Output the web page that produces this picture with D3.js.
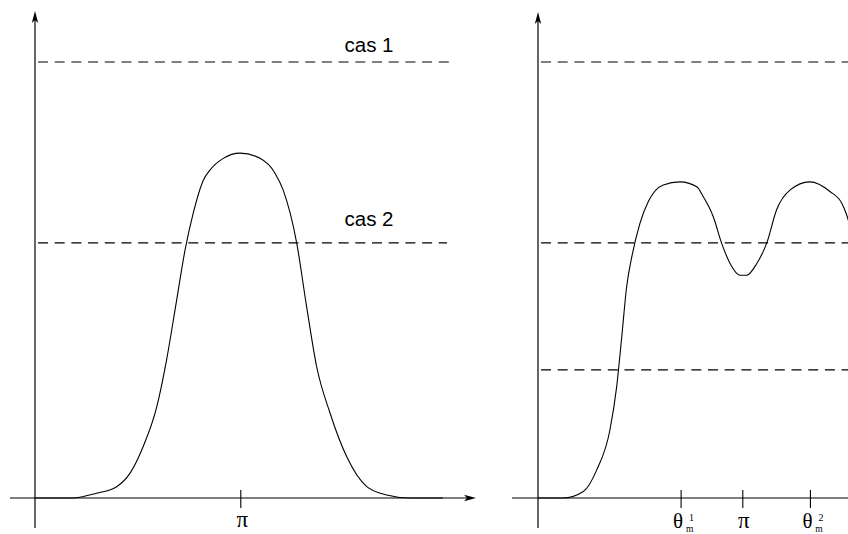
<!DOCTYPE html>
<html>
<head>
<meta charset="utf-8">
<script src="https://cdn.jsdelivr.net/npm/d3@7"></script>
<style>
  html, body { margin: 0; padding: 0; background: #fff; }
  svg { display: block; }
</style>
</head>
<body>
<svg id="chart" width="848" height="534"></svg>
<script>
// ---- data (theta in units of pi, value relative to the "cas 1" level) ----
const leftTheta  = [0, 0.185, 0.300, 0.398, 0.463, 0.526, 0.593, 0.641, 0.690, 0.731, 0.771, 0.820, 0.852, 0.917, 0.999, 1.096, 1.169, 1.209, 1.275, 1.323, 1.372, 1.437, 1.518, 1.616, 1.713, 1.827, 1.987];
const leftValue  = [0, 0.000, 0.011, 0.026, 0.057, 0.117, 0.209, 0.317, 0.454, 0.569, 0.654, 0.729, 0.752, 0.779, 0.791, 0.779, 0.745, 0.706, 0.584, 0.439, 0.301, 0.195, 0.095, 0.026, 0.007, 0.000, 0.000];

const rightTheta = [0, 0.122, 0.222, 0.287, 0.352, 0.385, 0.410, 0.434, 0.459, 0.499, 0.540, 0.613, 0.695, 0.777, 0.809, 0.858, 0.899, 0.940, 0.989, 1.022, 1.071, 1.119, 1.168, 1.233, 1.331, 1.429, 1.487, 1.511, 1.540];
const rightValue = [0, 0.000, 0.015, 0.064, 0.156, 0.255, 0.370, 0.485, 0.553, 0.630, 0.680, 0.718, 0.725, 0.714, 0.691, 0.645, 0.584, 0.538, 0.511, 0.511, 0.538, 0.584, 0.661, 0.706, 0.725, 0.703, 0.676, 0.649, 0.600];

const leftLevels  = [1, 0.585];
const rightLevels = [1, 0.585, 0.294];
const caseLabels  = ["cas 1", "cas 2"];

const leftTicks       = [1];
const leftTickLabels  = ["π"];
const rightTicks      = [0.698, 1, 1.331];
const rightTickMain   = ["θ", "π", "θ"];
const rightTickSup    = ["1", "", "2"];
const rightTickSub    = ["m", "", "m"];

// ---- layout ----
const svg = d3.select("#chart");
const baseY = 498;
const y = d3.scaleLinear().domain([0, 1]).range([baseY, 62]);
const xL = d3.scaleLinear().domain([0, 1]).range([35, 240.3]);
const xR = d3.scaleLinear().domain([0, 1]).range([538, 742.3]);

const ink = "#000";
const serif = "'Liberation Serif', 'DejaVu Serif', serif";
const sans = "'Liberation Sans', Arial, sans-serif";

function arrowUp(g, x, yTip) {
  g.append("path")
    .attr("d", `M${x},${yTip} L${x - 3.2},${yTip + 12} L${x},${yTip + 9} L${x + 3.2},${yTip + 12} Z`)
    .attr("fill", ink);
}
function arrowRight(g, xTip, yy) {
  g.append("path")
    .attr("d", `M${xTip},${yy} L${xTip - 12},${yy - 3.2} L${xTip - 9},${yy} L${xTip - 12},${yy + 3.2} Z`)
    .attr("fill", ink);
}

const line = (xs) => d3.line()
  .x(d => xs(d[0]))
  .y(d => y(d[1]))
  .curve(d3.curveMonotoneX);

function panel(xs, thetas, values, levels, ticks, opts) {
  const g = svg.append("g");
  levels.forEach((lv, i) => {
    g.append("line")
      .attr("x1", xs(0) + 3).attr("x2", opts.dashEnd[i])
      .attr("y1", y(lv)).attr("y2", y(lv))
      .attr("stroke", ink).attr("stroke-width", 1.2)
      .attr("stroke-dasharray", "10,6.7");
  });
  g.append("line")
    .attr("x1", xs(0)).attr("x2", xs(0))
    .attr("y1", 528).attr("y2", opts.yTop + 4)
    .attr("stroke", ink).attr("stroke-width", 1.2);
  arrowUp(g, xs(0), opts.yTop);
  g.append("line")
    .attr("x1", opts.xStart).attr("x2", opts.xEnd - 4)
    .attr("y1", baseY).attr("y2", baseY)
    .attr("stroke", ink).attr("stroke-width", 1.2);
  if (opts.arrow) arrowRight(g, opts.xEnd, baseY);
  const ax = g.append("g")
    .attr("transform", `translate(0,${baseY})`)
    .call(d3.axisBottom(xs).tickValues(ticks).tickSizeOuter(0).tickFormat(() => ""));
  ax.select(".domain").remove();
  ax.selectAll(".tick line").attr("y1", -8).attr("y2", 10)
    .attr("stroke", ink).attr("stroke-width", 1.1);
  ax.selectAll(".tick text").remove();
  ax.selectAll(".tick").each(function (d, i) { opts.label(d3.select(this), i); });
  const pts = thetas.map((t, i) => [t, values[i]]);
  g.append("path")
    .attr("d", line(xs)(pts))
    .attr("fill", "none").attr("stroke", ink).attr("stroke-width", 1.1);
  return g;
}

panel(xL, leftTheta, leftValue, leftLevels, leftTicks, {
  dashEnd: [453, 447], yTop: 11, xStart: 10, xEnd: 476, arrow: true,
  label: (t, i) => {
    t.append("text").attr("x", 1.5).attr("y", 29)
      .attr("text-anchor", "middle")
      .style("font-family", serif).style("font-size", "23px")
      .attr("fill", ink).text(leftTickLabels[i]);
  }
});

panel(xR, rightTheta, rightValue, rightLevels, rightTicks, {
  dashEnd: [848, 848, 848], yTop: 12, xStart: 512, xEnd: 860, arrow: false,
  label: (t, i) => {
    if (rightTickSup[i] === "") {
      t.append("text").attr("x", 1).attr("y", 30)
        .attr("text-anchor", "middle")
        .style("font-family", serif).style("font-size", "23px")
        .attr("fill", ink).text(rightTickMain[i]);
    } else {
      t.append("text").attr("x", -3).attr("y", 30)
        .style("font-family", serif).style("font-size", "21px")
        .attr("fill", ink).text(rightTickMain[i]);
      t.append("text").attr("x", 10.5).attr("y", 23)
        .style("font-family", serif).style("font-size", "10px")
        .attr("fill", ink).text(rightTickSup[i]);
      t.append("text").attr("x", 8.5).attr("y", 33.5)
        .style("font-family", serif).style("font-size", "9.5px")
        .attr("fill", ink).text(rightTickSub[i]);
    }
  }
});

const caseOffsets = [10, 16.5];
caseLabels.forEach((txt, i) => {
  svg.append("text")
    .attr("x", xL(1.627)).attr("y", y(leftLevels[i]) - caseOffsets[i])
    .attr("text-anchor", "middle")
    .style("font-family", sans).style("font-size", "20.5px")
    .attr("fill", ink).text(txt);
});
</script>
</body>
</html>
